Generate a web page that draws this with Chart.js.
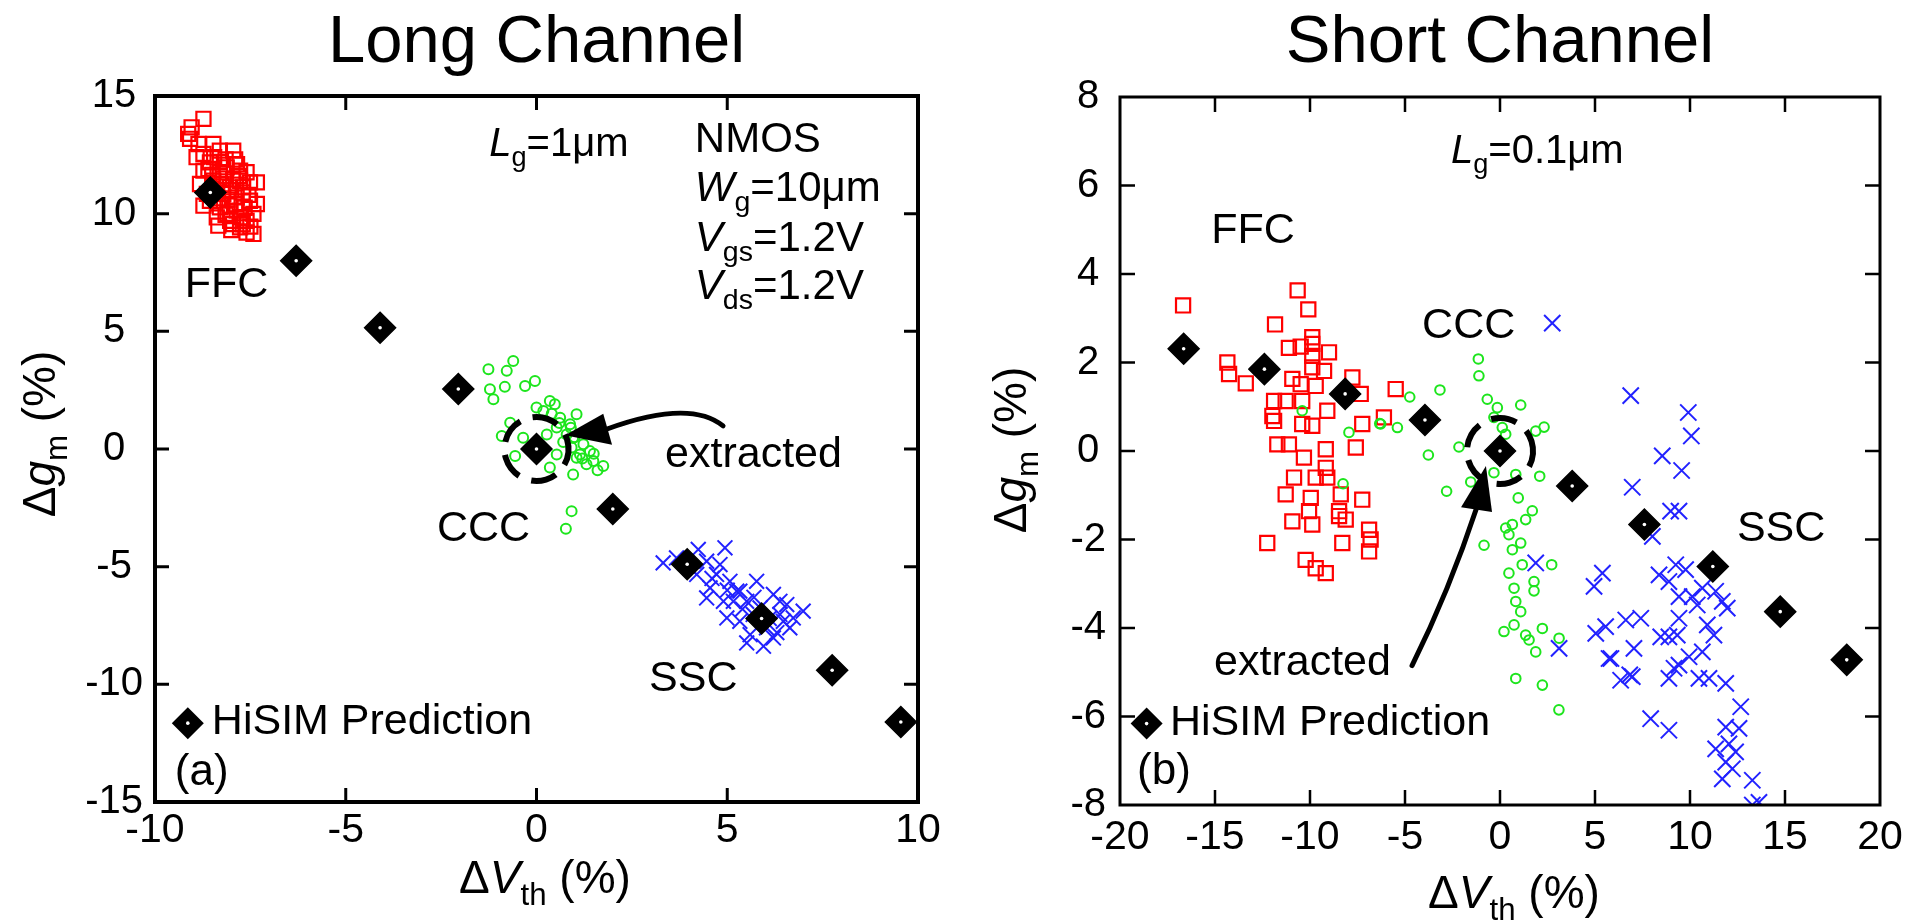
<!DOCTYPE html>
<html>
<head>
<meta charset="utf-8">
<title>HiSIM variation: long vs short channel</title>
<script src="https://cdn.jsdelivr.net/npm/chart.js@4.4.1/dist/chart.umd.min.js"></script>
<style>
  html, body { margin: 0; padding: 0; background: #fff; }
  #wrap { position: relative; width: 1921px; height: 923px; }
  #wrap canvas { position: absolute; top: 0; }
</style>
</head>
<body>
<div id="wrap">
  <canvas id="longChart" width="960" height="923" style="left:0"></canvas>
  <canvas id="shortChart" width="961" height="923" style="left:960px"></canvas>
</div>
<script>
const FONT = '"Liberation Sans", Arial, Helvetica, sans-serif';

// ---------- (a) long channel, Lg = 1um ----------
const longHisimX = [-8.55, -6.3, -4.1, -2.05, 0, 2.0, 3.95, 5.9, 7.75, 9.55];
const longHisimY = [10.9, 8.0, 5.15, 2.55, 0, -2.55, -4.9, -7.2, -9.4, -11.6];

const longFfcX = [-8.73, -9.04, -9.08, -8.86, -8.47, -8.73, -8.3, -7.95, -8.56, -8.12, -7.77, -8.73, -8.3, -7.6, -7.33, -7.51,
  -8.47, -8.64, -8.03, -7.86, -7.51, -7.33, -8.73, -8.3, -7.86, -7.42, -8.38, -8.03, -8.34, -7.77, -7.42, -7.6, -7.95, -8.82,
  -8.91, -9.13, -7.69, -8.21, -7.77, -8.56, -8.2, -8.0, -7.9, -8.1, -7.7, -8.4, -8.0, -7.6, -8.3, -8.6, -7.8, -8.1,
  -8.45, -8.15, -7.85, -7.55, -8.25, -7.95, -7.65, -8.05, -7.75, -8.35, -8.5, -7.7, -8.15, -7.9, -7.5];
const longFfcY = [14.03, 13.67, 13.18, 12.96, 12.96, 12.54, 12.68, 12.68, 12.18, 11.97, 11.83, 11.83, 11.76, 11.76, 11.33, 11.33,
  11.4, 10.84, 11.12, 10.69, 10.55, 10.41, 10.34, 10.27, 10.13, 9.99, 9.84, 9.7, 9.49, 9.42, 9.14, 9.2, 9.56, 11.26,
  12.4, 13.39, 11.12, 10.84, 11.4, 10.55, 11.5, 11.0, 10.4, 10.0, 10.9, 11.0, 9.3, 9.7, 12.2, 11.9, 11.6, 10.6,
  12.4, 12.3, 12.1, 10.8, 11.25, 11.45, 10.25, 10.35, 9.85, 10.65, 11.65, 9.55, 9.95, 12.3, 9.45];

const longCccX = [-1.26, -0.61, -0.78, -1.22, -1.13, -0.83, -0.3, -0.04, 0.0, 0.35, 0.48, 0.18, 0.62, 1.05, -0.69, -0.91,
  0.27, 0.88, -0.56, 0.35, 0.96, 1.31, 1.75, 1.14, 0.92, 0.79, 0.53, 1.49, 0.92, 0.77, 0.53, 0.0, -0.35, 1.05, 1.23, 1.4,
  0.96, 1.2, 1.5, 0.7, 1.0, 1.6, 0.6, 0.4, 0.9];
const longCccY = [3.39, 3.74, 3.32, 2.54, 2.11, 2.64, 2.68, 2.89, 1.76, 2.04, 1.9, 1.62, 1.33, 1.48, 1.12, 0.55,
  0.62, 1.05, -0.3, -0.79, -1.08, -0.65, -0.72, -0.23, 0.06, 0.62, -0.23, -0.51, -2.64, -3.39, 0.91, -0.23, 0.48, -0.37, 0.2, -0.09,
  0.48, -0.4, -0.2, 0.3, 0.5, -0.9, 1.1, 1.5, 0.9];

const longSscX = [3.32, 3.67, 4.24, 4.94, 4.46, 4.2, 4.72, 4.55, 5.07, 5.77, 5.33, 4.46, 4.9, 5.51, 6.21, 6.56, 6.99, 6.38,
  4.99, 5.33, 6.03, 6.64, 5.6, 6.21, 5.51, 5.95, 4.02, 4.81, 5.16, 5.86, 6.47, 6.73, 5.25, 6.38, 5.68, 5.4, 5.0, 6.1, 5.7, 4.6, 6.3];
const longSscY = [-4.84, -4.63, -4.27, -4.2, -4.77, -5.33, -5.33, -5.9, -5.62, -5.62, -6.04, -6.33, -6.47, -6.47, -6.18, -6.61, -6.89, -7.03,
  -7.18, -7.32, -7.6, -7.6, -7.89, -8.03, -8.24, -8.38, -5.05, -4.91, -6.47, -6.75, -7.32, -7.18, -6.04, -6.47, -7.03, -6.8, -6.0, -7.2, -6.3, -5.5, -7.8];

const longXTicks = { min: -10, max: 10, step: 5 };
const longYTicks = { min: -15, max: 15, step: 5 };

// ---------- (b) short channel, Lg = 0.1um ----------
const shortHisimX = [-16.65, -12.4, -8.15, -3.95, 0, 3.8, 7.6, 11.2, 14.75, 18.25];
const shortHisimY = [2.31, 1.85, 1.29, 0.7, 0, -0.79, -1.66, -2.61, -3.63, -4.72];

const shortFfcX = [-16.68, -10.65, -10.09, -11.84, -14.35, -14.26, -13.38, -11.11, -10.49, -9.88, -9.0, -9.88, -9.88, -9.26, -10.93,
  -10.49, -9.7, -7.77, -7.33, -5.49, -11.89, -11.28, -11.98, -10.41, -9.09, -10.41, -9.88, -11.89, -7.25, -6.11, -7.59, -11.72,
  -11.11, -10.32, -9.17, -9.17, -10.84, -9.7, -9.09, -11.28, -9.96, -8.38, -7.25, -10.05, -8.47, -10.93, -9.88, -8.12, -6.89,
  -12.25, -8.3, -6.81, -6.89, -10.23, -9.7, -9.17, -8.47, -9.88];
const shortFfcY = [3.29, 3.63, 3.2, 2.86, 2.0, 1.74, 1.53, 2.33, 2.36, 2.42, 2.23, 2.15, 1.89, 1.81, 1.63,
  1.51, 1.47, 1.66, 1.29, 1.4, 1.13, 1.13, 0.79, 1.13, 0.91, 0.61, 0.57, 0.68, 0.61, 0.76, 0.08, 0.15,
  0.15, -0.15, 0.04, -0.38, -0.6, -0.6, -0.6, -0.98, -1.06, -0.98, -1.1, -1.36, -1.36, -1.59, -1.66, -1.55, -1.78,
  -2.08, -2.08, -2.0, -2.27, -2.46, -2.65, -2.76, -1.47, 2.57];

const shortCccX = [-1.14, -1.11, -3.16, -4.75, -0.67, -0.14, 1.09, -5.4, -6.28, -3.77, -2.16, 0.3, 1.88, 2.32, -2.81, -1.54,
  -0.32, 0.83, 2.09, 0.96, 1.7, 1.35, 0.65, 0.47, 1.09, -0.84, 0.65, 1.17, 2.72, 0.47, 1.79, 1.79, 0.74, 0.83, 1.09, 0.74,
  0.21, 1.35, 2.23, 1.53, 1.88, 3.11, 0.83, 2.23, -0.32, 0.12, 0.3, -10.41, -7.95, -6.33, -8.26, 3.1];
const shortCccY = [2.08, 1.7, 1.38, 1.22, 1.17, 0.98, 1.04, 0.53, 0.61, -0.09, 0.09, 0.38, 0.45, 0.54, -0.91, -0.7,
  -0.49, -0.53, -0.57, -1.06, -1.35, -1.55, -1.66, -1.89, -2.08, -2.13, -2.23, -2.57, -2.57, -2.76, -2.95, -3.16, -3.1, -3.4, -3.63, -3.93,
  -4.08, -4.16, -4.01, -4.27, -4.54, -4.23, -5.14, -5.29, 0.76, 0.53, -1.74, 0.91, 0.42, 0.62, -0.74, -5.85];

const shortSscX = [2.75, 6.88, 9.91, 10.07, 8.54, 9.56, 6.96, 8.98, 9.42, 8.02, 1.88, 5.39, 4.95, 8.37, 9.25, 9.77, 8.89,
  11.35, 11.7, 11.96, 9.42, 10.12, 10.38, 10.65, 5.56, 5.04, 6.62, 7.41, 9.42, 10.91, 11.26, 8.46, 8.89, 9.33, 3.11, 7.05,
  5.74, 10.65, 9.95, 9.42, 9.16, 6.96, 6.35, 8.89, 10.47, 11.0, 11.88, 7.93, 8.89, 12.67, 11.88, 12.58, 11.35, 12.05, 12.4,
  11.88, 12.23, 11.7, 13.28, 13.63, 13.28, 5.84, 6.83];
const shortSscY = [2.89, 1.25, 0.87, 0.34, -0.11, -0.44, -0.82, -1.36, -1.36, -1.93, -2.53, -2.76, -3.06, -2.8, -2.57, -2.68, -2.95,
  -3.17, -3.4, -3.55, -3.29, -3.29, -3.48, -3.1, -3.97, -4.12, -3.82, -3.78, -3.78, -3.93, -4.16, -4.2, -4.2, -4.16, -4.46, -4.46,
  -4.69, -4.54, -4.65, -4.84, -4.91, -5.1, -5.18, -5.14, -5.14, -5.14, -5.25, -6.05, -6.31, -5.78, -6.24, -6.27, -6.73, -6.62, -6.8,
  -7.03, -7.18, -7.41, -7.44, -7.94, -8.0, -4.69, -5.06];

const shortXTicks = { min: -20, max: 20, step: 5 };
const shortYTicks = { min: -8, max: 8, step: 2 };

Chart.defaults.font.family = FONT;
Chart.defaults.color = '#000';

function pts(xs, ys) { return xs.map((x, i) => ({ x, y: ys[i] })); }

// draws a run of text pieces; style 'i' = italic, 's' = subscript
function richText(ctx, parts, x, y, size, align) {
  let total = 0;
  const segs = parts.map(([t, st]) => {
    const sub = st.includes('s');
    const fs = sub ? size * 0.68 : size;
    const font = (st.includes('i') ? 'italic ' : '') + fs + 'px ' + FONT;
    ctx.font = font;
    const w = ctx.measureText(t).width;
    total += w;
    return { t, font, w, dy: sub ? size * 0.25 : 0 };
  });
  let cx = align === 'center' ? x - total / 2 : x;
  segs.forEach(s => { ctx.font = s.font; ctx.fillText(s.t, cx, y + s.dy); cx += s.w; });
}

function diamond(ctx, x, y, r) {
  ctx.fillStyle = '#000';
  ctx.beginPath();
  ctx.moveTo(x - r, y); ctx.lineTo(x, y - r); ctx.lineTo(x + r, y); ctx.lineTo(x, y + r);
  ctx.closePath(); ctx.fill();
  ctx.fillStyle = '#fff';
  ctx.beginPath(); ctx.arc(x, y, 1.8, 0, Math.PI * 2); ctx.fill();
  ctx.fillStyle = '#000';
}

// frame, inner ticks, titles and the in-plot annotations
const figureNotes = {
  id: 'figureNotes',
  afterDatasetsDraw(chart, args, o) {
    const { ctx, chartArea: a, scales: { x, y } } = chart;
    const px = v => x.getPixelForValue(v), py = v => y.getPixelForValue(v);
    ctx.save();
    ctx.fillStyle = '#000';
    ctx.strokeStyle = '#000';
    ctx.textAlign = 'left';
    ctx.textBaseline = 'alphabetic';

    // dashed ring round the extracted point
    ctx.lineWidth = 6;
    ctx.setLineDash([26, 13]);
    ctx.beginPath();
    ctx.arc(px(0), py(0), o.ringR, -0.3, Math.PI * 2 - 0.3);
    ctx.stroke();
    ctx.setLineDash([]);

    // curved arrow pointing at it
    const ar = o.arrow;
    ctx.lineWidth = 5;
    ctx.lineCap = 'round';
    ctx.beginPath();
    ctx.moveTo(px(ar.from[0]), py(ar.from[1]));
    ctx.quadraticCurveTo(px(ar.ctrl[0]), py(ar.ctrl[1]), px(ar.to[0]), py(ar.to[1]));
    ctx.stroke();
    ctx.beginPath();
    ctx.moveTo(px(ar.tip[0]), py(ar.tip[1]));
    ctx.lineTo(px(ar.w1[0]), py(ar.w1[1]));
    ctx.lineTo(px(ar.w2[0]), py(ar.w2[1]));
    ctx.closePath();
    ctx.fill();

    // labels
    o.labels.forEach(l => richText(ctx, l.parts, px(l.x), py(l.y), l.size, 'left'));

    // legend entry
    diamond(ctx, px(o.legend.mx), py(o.legend.my), 16);
    richText(ctx, [['HiSIM Prediction', '']], px(o.legend.tx), py(o.legend.ty), 43, 'left');

    // frame
    ctx.lineWidth = o.frame;
    ctx.lineCap = 'butt';
    ctx.strokeRect(a.left, a.top, a.right - a.left, a.bottom - a.top);

    // inner tick marks on all four sides
    ctx.lineWidth = o.tickWidth;
    ctx.beginPath();
    x.ticks.forEach(t => {
      if (t.value <= x.min || t.value >= x.max) return;
      const p = px(t.value);
      ctx.moveTo(p, a.top); ctx.lineTo(p, a.top + o.tickLen);
      ctx.moveTo(p, a.bottom); ctx.lineTo(p, a.bottom - o.tickLen);
    });
    y.ticks.forEach(t => {
      if (t.value <= y.min || t.value >= y.max) return;
      const p = py(t.value);
      ctx.moveTo(a.left, p); ctx.lineTo(a.left + o.tickLen, p);
      ctx.moveTo(a.right, p); ctx.lineTo(a.right - o.tickLen, p);
    });
    ctx.stroke();

    // panel title
    richText(ctx, [[o.title, '']], (a.left + a.right) / 2, 62, 67, 'center');

    // axis titles
    richText(ctx, [['Δ', ''], ['V', 'i'], ['th', 's'], [' (%)', '']], o.xTitle[0], o.xTitle[1], 46, 'center');
    ctx.translate(o.yTitle[0], o.yTitle[1]);
    ctx.rotate(-Math.PI / 2);
    richText(ctx, [['Δ', ''], ['g', 'i'], ['m', 's'], [' (%)', '']], 0, 0, 46, 'center');
    ctx.restore();
  }
};

function makeChart(id, d) {
  const box = d.box;
  return new Chart(document.getElementById(id), {
    type: 'scatter',
    data: {
      datasets: [
        { data: pts(d.hisimX, d.hisimY), pointStyle: 'circle', pointRadius: 1.8, pointBackgroundColor: '#fff', pointBorderWidth: 0, order: 0 },
        { data: pts(d.hisimX, d.hisimY), pointStyle: 'rectRot', pointRadius: 15.5, pointBackgroundColor: '#000', pointBorderColor: '#000', pointBorderWidth: 1.5, order: 1 },
        { data: pts(d.sscX, d.sscY), pointStyle: 'crossRot', pointRadius: d.crossR, pointBorderColor: '#2222ff', pointBorderWidth: 2, order: 2 },
        { data: pts(d.cccX, d.cccY), pointStyle: 'circle', pointRadius: d.circleR, pointBackgroundColor: 'rgba(0,0,0,0)', pointBorderColor: '#1de51d', pointBorderWidth: 2, order: 3 },
        { data: pts(d.ffcX, d.ffcY), pointStyle: 'rect', pointRadius: 10, pointBackgroundColor: 'rgba(0,0,0,0)', pointBorderColor: '#ff0000', pointBorderWidth: 2.2, order: 4 }
      ]
    },
    options: {
      responsive: false,
      animation: false,
      devicePixelRatio: 1,
      events: [],
      layout: { padding: { top: box.top, right: box.right, left: 0, bottom: 0 } },
      plugins: { legend: { display: false }, tooltip: { enabled: false }, figureNotes: d.notes },
      scales: {
        x: {
          type: 'linear', min: d.xt.min, max: d.xt.max,
          ticks: { stepSize: d.xt.step, font: { size: 41 }, color: '#000', padding: d.xPad, maxRotation: 0 },
          grid: { display: false, drawTicks: false },
          border: { display: false },
          afterFit: s => { s.height = box.xh; }
        },
        y: {
          type: 'linear', min: d.yt.min, max: d.yt.max,
          ticks: { stepSize: d.yt.step, font: { size: 40 }, color: '#000', padding: d.yPad, crossAlign: 'center' },
          grid: { display: false, drawTicks: false },
          border: { display: false },
          afterFit: s => { s.width = box.yw; }
        }
      }
    },
    plugins: [figureNotes]
  });
}

makeChart('longChart', {
  hisimX: longHisimX, hisimY: longHisimY,
  ffcX: longFfcX, ffcY: longFfcY,
  cccX: longCccX, cccY: longCccY,
  sscX: longSscX, sscY: longSscY,
  xt: longXTicks, yt: longYTicks,
  crossR: 10.5, circleR: 5, xPad: 4, yPad: 12,
  box: { top: 96, right: 42, xh: 121, yw: 155 },
  notes: {
    title: 'Long Channel', frame: 4, tickLen: 14, tickWidth: 3,
    xTitle: [545, 893], yTitle: [55, 434],
    ringR: 32,
    arrow: { from: [4.89, 0.98], ctrl: [4.02, 2.13], to: [1.85, 0.85], tip: [0.75, 0.58], w1: [1.75, 1.5], w2: [1.98, 0.18] },
    legend: { mx: -9.14, my: -11.65, tx: -8.51, ty: -12.13 },
    labels: [
      { parts: [['L', 'i'], ['g', 's'], ['=1μm', '']], x: -1.24, y: 12.47, size: 40 },
      { parts: [['NMOS', '']], x: 4.15, y: 12.6, size: 42 },
      { parts: [['W', 'i'], ['g', 's'], ['=10μm', '']], x: 4.15, y: 10.55, size: 42 },
      { parts: [['V', 'i'], ['gs', 's'], ['=1.2V', '']], x: 4.15, y: 8.43, size: 42 },
      { parts: [['V', 'i'], ['ds', 's'], ['=1.2V', '']], x: 4.15, y: 6.38, size: 42 },
      { parts: [['FFC', '']], x: -9.22, y: 6.44, size: 43 },
      { parts: [['CCC', '']], x: -2.61, y: -3.91, size: 43 },
      { parts: [['SSC', '']], x: 2.95, y: -10.3, size: 43 },
      { parts: [['extracted', '']], x: 3.37, y: -0.77, size: 43 },
      { parts: [['(a)', '']], x: -9.48, y: -14.26, size: 44 }
    ]
  }
});

makeChart('shortChart', {
  hisimX: shortHisimX, hisimY: shortHisimY,
  ffcX: shortFfcX, ffcY: shortFfcY,
  cccX: shortCccX, cccY: shortCccY,
  sscX: shortSscX, sscY: shortSscY,
  xt: shortXTicks, yt: shortYTicks,
  crossR: 11.5, circleR: 4.8, xPad: 8, yPad: 14,
  box: { top: 97, right: 41, xh: 118, yw: 160 },
  notes: {
    title: 'Short Channel', frame: 3, tickLen: 15, tickWidth: 2.5,
    xTitle: [554, 908], yTitle: [66, 450],
    ringR: 33,
    arrow: { from: [-4.63, -4.85], ctrl: [-2.68, -3.17], to: [-1.2, -1.25], tip: [-0.74, -0.34], w1: [-2.05, -1.27], w2: [-0.42, -1.38] },
    legend: { mx: -18.6, my: -6.16, tx: -17.37, ty: -6.42 },
    labels: [
      { parts: [['L', 'i'], ['g', 's'], ['=0.1μm', '']], x: -2.58, y: 6.51, size: 40 },
      { parts: [['FFC', '']], x: -15.2, y: 4.69, size: 43 },
      { parts: [['CCC', '']], x: -4.1, y: 2.56, size: 43 },
      { parts: [['SSC', '']], x: 12.47, y: -2.04, size: 43 },
      { parts: [['extracted', '']], x: -15.05, y: -5.06, size: 43 },
      { parts: [['(b)', '']], x: -19.1, y: -7.53, size: 44 }
    ]
  }
});
</script>
</body>
</html>
